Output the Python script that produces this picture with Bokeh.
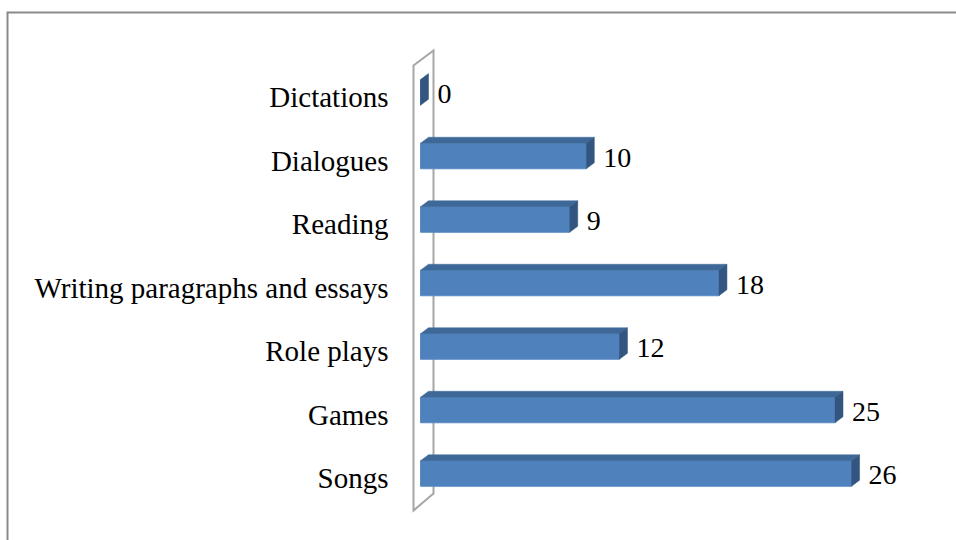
from bokeh.plotting import figure
from bokeh.models import Range1d, ColumnDataSource
from bokeh.embed import file_html
from bokeh.resources import INLINE
from bokeh.core.properties import value

# ---- data (bottom to top) ----
categories = ["Songs", "Games", "Role plays", "Writing paragraphs and essays",
              "Reading", "Dialogues", "Dictations"]
counts = [26, 25, 12, 18, 9, 10, 0]

# ---- layout constants (pixels) ----
W, H = 956, 540
X0_PX = 420.0        # pixel of value 0
PX_PER_UNIT = 16.58  # pixels per count
ROW0_PX = 473.0      # pixel centre of first row (Songs)
ROW_PX = 63.5        # pixels between rows


def px_x(px):
    return (px - X0_PX) / PX_PER_UNIT


def px_y(py):
    return (ROW0_PX - py) / ROW_PX


half = 12.75 / ROW_PX      # half height of bar front face
dx = 8.0 / PX_PER_UNIT     # 3-D depth, horizontal
dy = 6.0 / ROW_PX          # 3-D depth, vertical

rows = list(range(len(categories)))

p = figure(width=W, height=H, output_backend="svg", toolbar_location=None,
           x_range=Range1d(px_x(0), px_x(W)), y_range=Range1d(px_y(H), px_y(0)),
           x_axis_location=None, y_axis_location=None, min_border=0)
p.min_border_left = p.min_border_right = p.min_border_top = p.min_border_bottom = 0
p.grid.visible = False
p.outline_line_color = None
p.background_fill_color = "white"
p.border_fill_color = "white"

# chart border (left and top edges visible)
p.line(x=[px_x(7), px_x(7), px_x(W + 10)], y=[px_y(H + 10), px_y(12), px_y(12)],
       line_color="#8a8a8a", line_width=2, line_join="miter")

# side wall
p.patch(x=[px_x(413), px_x(413), px_x(433), px_x(433)],
        y=[px_y(510), px_y(65), px_y(50), px_y(493)],
        fill_color="white", line_color="#a6a6a6", line_width=2, line_join="miter")

# bar front faces
src = ColumnDataSource(dict(
    left=[0] * len(counts), right=counts,
    bottom=[r - half for r in rows], top=[r + half for r in rows]))
p.quad(left="left", right="right", bottom="bottom", top="top", source=src,
       fill_color="#4f81bd", line_color="#5a8ac4", line_width=1)

# top faces
top_xs = [[0, dx, v + dx, v] for v in counts]
top_ys = [[r + half, r + half + dy, r + half + dy, r + half] for r in rows]
p.patches(xs=top_xs, ys=top_ys, fill_color="#3e6898", line_color="#3e6898", line_width=0.5)

# side faces
side_xs = [[v, v + dx, v + dx, v] for v in counts]
side_ys = [[r + half, r + half + dy, r - half + dy, r - half] for r in rows]
p.patches(xs=side_xs, ys=side_ys, fill_color="#32567f", line_color="#32567f", line_width=0.5)

# category labels
p.text(x=[0] * len(rows), y=rows, text=categories, text_align="right",
       text_baseline="alphabetic", x_offset=-32, y_offset=4.5,
       text_font=value("Liberation Serif"), text_font_size="29px", text_color="black")

# value labels
p.text(x=counts, y=rows, text=[str(v) for v in counts], text_align="left",
       text_baseline="alphabetic", x_offset=17, y_offset=1.5,
       text_font=value("Liberation Serif"), text_font_size="28px", text_color="black")

open("out.html", "w").write(file_html(p, INLINE))
